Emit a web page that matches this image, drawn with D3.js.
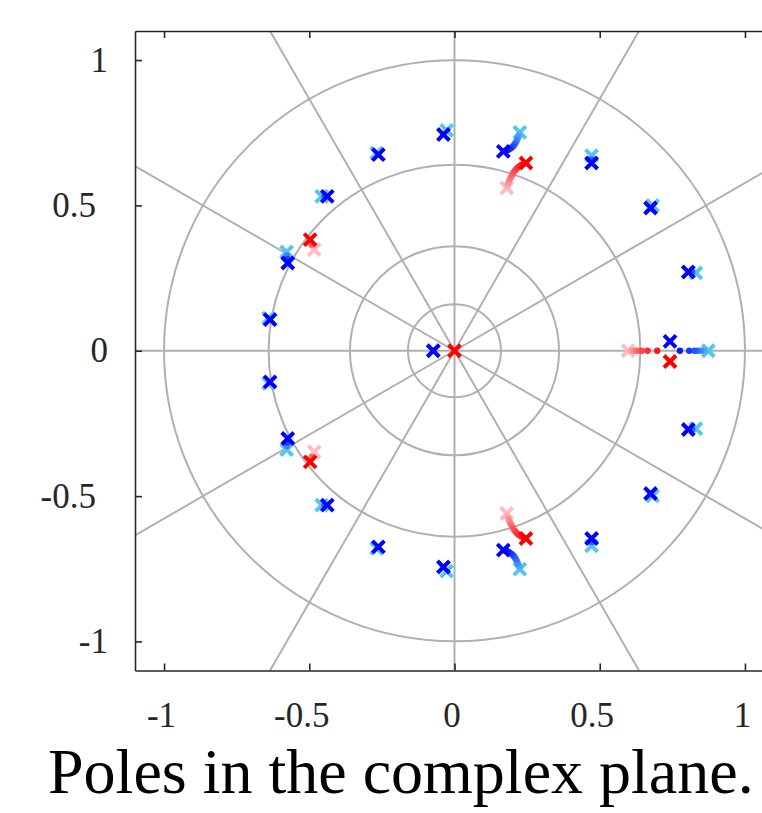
<!DOCTYPE html>
<html>
<head>
<meta charset="utf-8">
<script src="https://cdn.jsdelivr.net/npm/d3@7"></script>
<style>
  body { margin: 0; background: #fff; }
  svg { display: block; }
  .axis text { font-family: "Liberation Serif", serif; font-size: 35px; fill: #262626; }
  .axis path, .axis line { stroke: #262626; stroke-width: 1.6; }
</style>
</head>
<body>
<div id="chart"></div>
<script>
// pole trajectories, each from start (light) to end (dark), as [re, im]
const bluePoles = [
    [[-0.640, 0.112], [-0.635, 0.107]],
    [[-0.578, 0.340], [-0.577, 0.328], [-0.576, 0.316], [-0.574, 0.302]],
    [[-0.457, 0.531], [-0.448, 0.531], [-0.438, 0.531]],
    [[-0.268, 0.680], [-0.262, 0.675]],
    [[-0.027, 0.758], [-0.038, 0.744]],
    [[0.225, 0.751], [0.223, 0.745], [0.221, 0.739], [0.218, 0.732], [0.215, 0.725],
     [0.212, 0.718], [0.208, 0.712], [0.204, 0.706], [0.199, 0.701], [0.194, 0.697],
     [0.188, 0.693], [0.182, 0.690], [0.175, 0.688], [0.168, 0.686]],
    [[0.472, 0.671], [0.472, 0.658], [0.472, 0.646]],
    [[0.682, 0.499], [0.675, 0.491]],
    [[0.831, 0.268], [0.818, 0.270], [0.805, 0.271]],
    [[0.874, 0], [0.860, 0], [0.849, 0], [0.837, 0], [0.826, 0], [0.808, 0], [0.776, 0], [0.742, 0.032]],
    [[-0.073, 0], [-0.073, 0]],
    [[-0.640, -0.112], [-0.635, -0.107]],
    [[-0.578, -0.340], [-0.577, -0.328], [-0.576, -0.316], [-0.574, -0.302]],
    [[-0.457, -0.531], [-0.448, -0.531], [-0.438, -0.531]],
    [[-0.268, -0.680], [-0.262, -0.675]],
    [[-0.027, -0.758], [-0.038, -0.744]],
    [[0.225, -0.751], [0.223, -0.745], [0.221, -0.739], [0.218, -0.732], [0.215, -0.725],
     [0.212, -0.718], [0.208, -0.712], [0.204, -0.706], [0.199, -0.701], [0.194, -0.697],
     [0.188, -0.693], [0.182, -0.690], [0.175, -0.688], [0.168, -0.686]],
    [[0.472, -0.671], [0.472, -0.658], [0.472, -0.646]],
    [[0.682, -0.499], [0.675, -0.491]],
    [[0.831, -0.268], [0.818, -0.270], [0.805, -0.271]]
];

const redPoles = [
    [[0, 0], [0, 0]],
    [[-0.483, 0.348], [-0.490, 0.365], [-0.497, 0.382]],
    [[-0.483, -0.348], [-0.490, -0.365], [-0.497, -0.382]],
    [[0.180, 0.560], [0.182, 0.567], [0.184, 0.574], [0.187, 0.581], [0.190, 0.589],
     [0.194, 0.597], [0.198, 0.605], [0.203, 0.613], [0.209, 0.621], [0.215, 0.628],
     [0.222, 0.634], [0.230, 0.639], [0.238, 0.643], [0.246, 0.646]],
    [[0.180, -0.560], [0.182, -0.567], [0.184, -0.574], [0.187, -0.581], [0.190, -0.589],
     [0.194, -0.597], [0.198, -0.605], [0.203, -0.613], [0.209, -0.621], [0.215, -0.628],
     [0.222, -0.634], [0.230, -0.639], [0.238, -0.643], [0.246, -0.646]],
    [[0.598, 0], [0.607, 0], [0.616, 0], [0.625, 0], [0.633, 0], [0.645, 0], [0.665, 0], [0.698, 0], [0.742, -0.037]]
];

const ringRadii = [0.16, 0.36, 0.64, 1];
const spokeAngles = [0, 30, 60, 90, 120, 150, 180, 210, 240, 270, 300, 330];
const xTicks = [-1, -0.5, 0, 0.5, 1];
const yTicks = [-1, -0.5, 0, 0.5, 1];

const W = 762, H = 813;
const plotLeft = 135, plotTop = 31, plotW = 639, plotH = 639.5;

const svg = d3.select('#chart')
    .append('svg')
    .attr('width', W)
    .attr('height', H);

const x = d3.scaleLinear().domain([-1.1, 1.1]).range([plotLeft, plotLeft + plotW]);
const y = d3.scaleLinear().domain([-1.1, 1.1]).range([plotTop + plotH, plotTop]);

svg.append('clipPath').attr('id', 'plotclip')
    .append('rect')
    .attr('x', plotLeft).attr('y', plotTop)
    .attr('width', plotW).attr('height', plotH);

// polar grid
const grid = svg.append('g').attr('clip-path', 'url(#plotclip)');
grid.selectAll('.spoke')
    .data(spokeAngles)
    .enter()
    .append('line')
    .attr('x1', x(0)).attr('y1', y(0))
    .attr('x2', d => x(2 * Math.cos(d * Math.PI / 180)))
    .attr('y2', d => y(2 * Math.sin(d * Math.PI / 180)))
    .attr('stroke', '#b0b0b0')
    .attr('stroke-width', 2);

grid.selectAll('.ring')
    .data(ringRadii)
    .enter()
    .append('circle')
    .attr('cx', x(0)).attr('cy', y(0))
    .attr('r', d => x(d) - x(0))
    .attr('fill', 'none')
    .attr('stroke', '#b0b0b0')
    .attr('stroke-width', 2);

// axes (box with inward ticks)
const isWhole = d => Number.isInteger(d);

svg.append('g')
    .attr('class', 'axis')
    .attr('transform', 'translate(0,' + (plotTop + plotH) + ')')
    .call(d3.axisBottom(x).tickValues(xTicks).tickSize(-7).tickSizeOuter(0)
        .tickPadding(32).tickFormat(d => String(d)))
    .selectAll('.tick text')
    .attr('dx', d => isWhole(d) ? -3 : -8);

svg.append('g')
    .attr('class', 'axis')
    .attr('transform', 'translate(0,' + plotTop + ')')
    .call(d3.axisTop(x).tickValues(xTicks).tickSize(-7).tickSizeOuter(0).tickFormat(''));

svg.append('g')
    .attr('class', 'axis')
    .attr('transform', 'translate(' + plotLeft + ',0)')
    .call(d3.axisLeft(y).tickValues(yTicks).tickSize(-7).tickSizeOuter(0)
        .tickPadding(27).tickFormat(d => String(d)))
    .selectAll('.tick text')
    .attr('dx', d => isWhole(d) ? 0 : -12);

// pole markers
const cross = 'M-6,-6L6,6M-6,6L6,-6';

function drawPoles(paths, startColor, endColor) {
    const color = d3.interpolateRgb(startColor, endColor);
    const g = svg.append('g').attr('clip-path', 'url(#plotclip)');

    paths.forEach(path => {
        const n = path.length;
        const first = path[0], last = path[n - 1];

        g.append('path')
            .attr('d', cross)
            .attr('transform', 'translate(' + x(first[0]) + ',' + y(first[1]) + ')')
            .attr('stroke', startColor)
            .attr('stroke-width', 4);

        g.selectAll(null)
            .data(path.slice(1, n - 1))
            .enter()
            .append('circle')
            .attr('cx', d => x(d[0]))
            .attr('cy', d => y(d[1]))
            .attr('r', 3.2)
            .attr('fill', (d, i) => color((i + 1) / (n - 1)));

        g.append('path')
            .attr('d', cross)
            .attr('transform', 'translate(' + x(last[0]) + ',' + y(last[1]) + ')')
            .attr('stroke', endColor)
            .attr('stroke-width', 4);
    });
}

drawPoles(bluePoles, '#55c6f0', '#0000ff');
drawPoles(redPoles, '#ffbcc6', '#ff0000');

// caption
svg.append('text')
    .attr('x', 48)
    .attr('y', 793)
    .style('font-family', '"Liberation Serif", serif')
    .style('font-size', '64px')
    .style('fill', '#000')
    .text('Poles in the complex plane.');
</script>
</body>
</html>
